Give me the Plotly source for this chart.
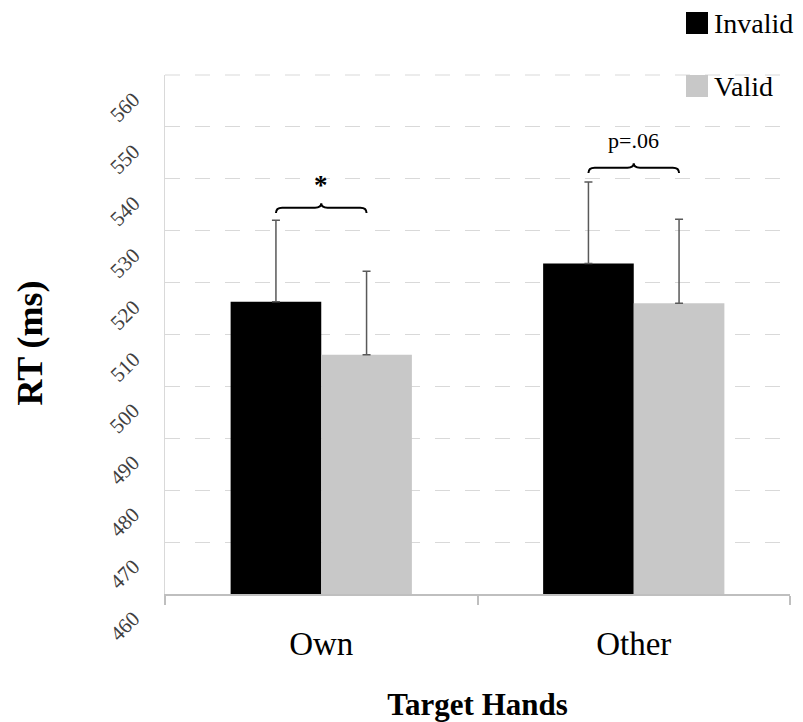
import plotly.graph_objects as go

# Mean reaction times (ms) by target hand and cue validity
hands = ["Own", "Other"]
invalid_rt = [516.3, 523.7]
valid_rt = [506.1, 516.0]
invalid_err = [15.7, 15.7]
valid_err = [16.1, 16.2]

# Significance labels above each pair
sig_labels = ["*", "p=.06"]
brace_y = [533.4, 541.1]

y_ticks = list(range(460, 561, 10))

series_names = ["Invalid", "Valid"]
series_colors = ["#000000", "#c8c8c8"]

SERIF = "Liberation Serif"
x_pos = list(range(len(hands)))

fig = go.Figure()
for name, color, vals, errs in zip(series_names, series_colors,
                                   [invalid_rt, valid_rt], [invalid_err, valid_err]):
    fig.add_trace(go.Bar(
        name=name, x=x_pos, y=vals, showlegend=False,
        marker=dict(color=color, line=dict(width=0)),
        error_y=dict(type="data", array=errs, arrayminus=[0] * len(hands), symmetric=False,
                     color="#595959", thickness=1.5, width=4),
    ))

# Curly braces joining the two bars of each group
half = (1 - 0.42) / 4  # offset of each bar centre from the group centre
for i, (lab, yb) in enumerate(zip(sig_labels, brace_y)):
    x0, x1, xm = i - half, i + half, i
    h = 1.9  # brace height in ms
    path = (f"M {x0},{yb} Q {x0},{yb + h*0.55} {x0 + 0.02},{yb + h*0.55} "
            f"L {xm - 0.02},{yb + h*0.55} Q {xm},{yb + h*0.55} {xm},{yb + h} "
            f"Q {xm},{yb + h*0.55} {xm + 0.02},{yb + h*0.55} "
            f"L {x1 - 0.02},{yb + h*0.55} Q {x1},{yb + h*0.55} {x1},{yb}")
    fig.add_shape(type="path", path=path, xref="x", yref="y",
                  line=dict(color="#000000", width=2))
    is_star = lab == "*"
    fig.add_annotation(x=xm, y=yb + h, text=f"<b>{lab}</b>" if is_star else lab,
                       showarrow=False, yanchor="bottom",
                       yshift=1 if is_star else 8,
                       font=dict(family=SERIF, size=27 if is_star else 22, color="#000000"))

# Slanted y tick labels, set below-left of their gridlines
for v in y_ticks:
    fig.add_annotation(x=0, xref="paper", y=v, yref="y", text=str(v), textangle=-45,
                       showarrow=False, xanchor="center", yanchor="middle",
                       xshift=-40, yshift=-32,
                       font=dict(family=SERIF, size=21, color="#404040"))

# Dashed gridline along the top edge of the plot area
fig.add_shape(type="line", xref="paper", yref="paper", x0=0, x1=1, y0=1, y1=1,
              line=dict(color="#d9d9d9", width=1, dash="longdash"))

# Y-axis title
fig.add_annotation(x=0, xref="paper", y=0.5, yref="paper", text="<b>RT (ms)</b>",
                   textangle=-90, showarrow=False, xanchor="center", yanchor="middle",
                   xshift=-136, yshift=-9,
                   font=dict(family=SERIF, size=36, color="#000000"))

# Legend: swatches and labels at the top right
legend_y = [(1.079, 1.1214, 1.100), (0.9576, 1.0, 0.9788)]
for name, color, (y0, y1, yt) in zip(series_names, series_colors, legend_y):
    fig.add_shape(type="rect", xref="paper", yref="paper",
                  x0=0.8336, x1=0.8688, y0=y0, y1=y1,
                  fillcolor=color, line=dict(width=0))
    fig.add_annotation(x=0.8752, xref="paper", y=yt, yref="paper", text=name,
                       showarrow=False, xanchor="left", yanchor="middle",
                       font=dict(family=SERIF, size=28, color="#000000"))

fig.update_layout(
    width=803, height=722,
    margin=dict(l=165, r=13, t=75, b=128, autoexpand=False),
    paper_bgcolor="white", plot_bgcolor="white",
    barmode="group", bargap=0.42, bargroupgap=0,
    font=dict(family=SERIF, color="#000000"),
    showlegend=False,
    xaxis=dict(
        range=[-0.5, 1.5], tickvals=x_pos, ticktext=hands, ticks="",
        tickfont=dict(family=SERIF, size=33), ticklabelstandoff=20,
        showgrid=False, zeroline=False, automargin=False,
        showline=True, linecolor="#bfbfbf", linewidth=1.5,
        minor=dict(ticks="outside", tick0=-0.5, dtick=1, ticklen=9,
                   tickcolor="#bfbfbf", tickwidth=1.5, showgrid=False),
        title=dict(text="<b>Target Hands</b>", font=dict(family=SERIF, size=31), standoff=33),
    ),
    yaxis=dict(
        range=[460, 560], tickvals=y_ticks, ticks="", showticklabels=False,
        showgrid=True, gridcolor="#d9d9d9", griddash="longdash", gridwidth=1,
        zeroline=False, showline=True, linecolor="#d9d9d9", linewidth=1, automargin=False,
    ),
)

fig.write_html("out.html")
